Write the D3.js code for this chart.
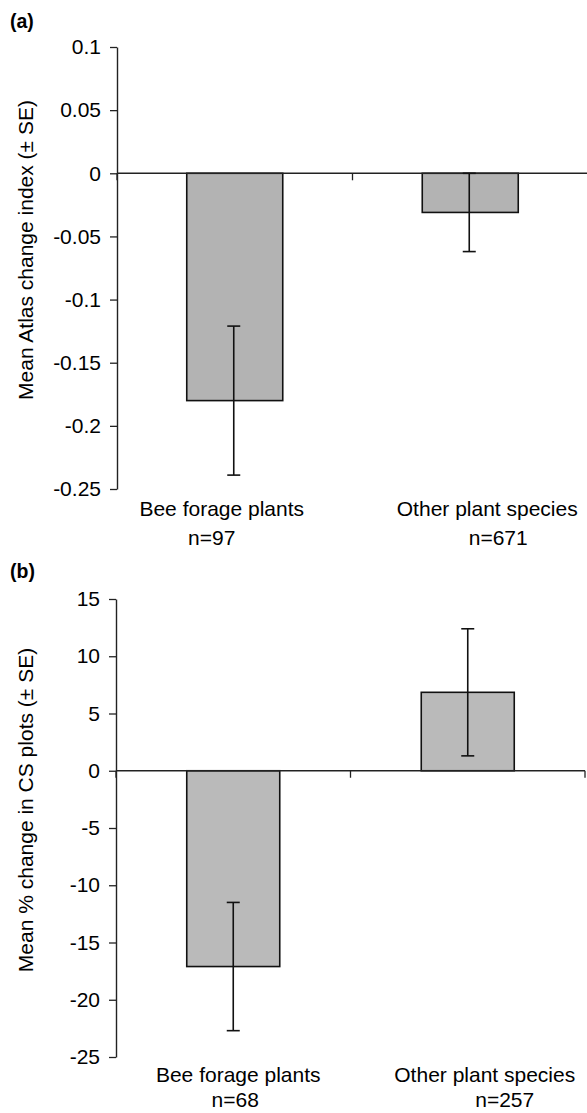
<!DOCTYPE html>
<html>
<head>
<meta charset="utf-8">
<script src="https://cdn.jsdelivr.net/npm/d3@7"></script>
<style>
  html, body { margin: 0; padding: 0; background: #fff; }
  svg { display: block; font-family: "Liberation Sans", Arial, Helvetica, sans-serif; }
</style>
</head>
<body>
<svg width="587" height="1113"></svg>
<script>
// categories shared by both panels
const categories = ['Bee forage plants', 'Other plant species'];

// (a) Atlas change index
const atlasMean = [-0.180, -0.031];
const atlasSE = [0.059, 0.031];
const atlasN = [97, 671];
const atlasTicks = [0.1, 0.05, 0, -0.05, -0.1, -0.15, -0.2, -0.25];

// (b) % change in CS plots
const csMean = [-17.1, 6.85];
const csSE = [5.6, 5.55];
const csN = [68, 257];
const csTicks = [15, 10, 5, 0, -5, -10, -15, -20, -25];

const svg = d3.select('svg');
const fs = 21;

function panel(opt) {
  const g = svg.append('g');
  const x = d3.scaleBand().domain(categories).range(opt.xr);
  const y = d3.scaleLinear().domain(d3.extent(opt.ticks)).range([opt.yr[1], opt.yr[0]]);
  const barW = opt.barW;

  // y axis
  const ya = g.append('g')
    .attr('transform', `translate(${opt.xr[0]},0)`)
    .call(d3.axisLeft(y).tickValues(opt.ticks).tickFormat(d => d).tickSize(7).tickPadding(9).tickSizeOuter(0));
  ya.select('.domain').attr('stroke', '#222').attr('stroke-width', 1.4);
  ya.selectAll('.tick line').attr('stroke', '#222').attr('stroke-width', 1.3);
  ya.selectAll('.tick text').attr('font-size', fs).attr('fill', '#000')
    .attr('font-family', '"Liberation Sans", Arial, sans-serif');

  // bars
  const data = categories.map((c, i) => ({ c, m: opt.mean[i], se: opt.se[i] }));
  g.append('g').selectAll('rect').data(data).join('rect')
    .attr('x', d => x(d.c) + x.bandwidth() / 2 - barW / 2)
    .attr('width', barW)
    .attr('y', d => y(Math.max(0, d.m)))
    .attr('height', d => Math.abs(y(d.m) - y(0)))
    .attr('fill', opt.fill)
    .attr('stroke', '#111')
    .attr('stroke-width', 1.6);

  // zero line with ticks at category boundaries
  const xa = g.append('g');
  xa.append('line')
    .attr('x1', opt.xr[0]).attr('x2', opt.xr[1])
    .attr('y1', y(0)).attr('y2', y(0))
    .attr('stroke', '#222').attr('stroke-width', 1.4);
  const bounds = [opt.xr[0]].concat(categories.map(c => x(c) + x.step()));
  xa.selectAll('.xt').data(bounds).join('line')
    .attr('x1', d => d).attr('x2', d => d)
    .attr('y1', y(0)).attr('y2', y(0) + 7)
    .attr('stroke', '#222').attr('stroke-width', 1.3);

  // error bars
  const eb = g.append('g').attr('stroke', '#111').attr('stroke-width', 1.6);
  data.forEach(d => {
    const cx = x(d.c) + x.bandwidth() / 2 + opt.errDx;
    eb.append('line').attr('x1', cx).attr('x2', cx)
      .attr('y1', y(d.m + d.se)).attr('y2', y(d.m - d.se));
    [d.m + d.se, d.m - d.se].forEach(v => {
      eb.append('line').attr('x1', cx - 6.5).attr('x2', cx + 6.5)
        .attr('y1', y(v)).attr('y2', y(v));
    });
  });

  // category labels and n
  categories.forEach((c, i) => {
    const cx = x(c) + x.bandwidth() / 2;
    g.append('text').attr('x', cx + opt.labDx[i]).attr('y', opt.labY)
      .attr('text-anchor', 'middle').attr('font-size', fs).text(c);
    g.append('text').attr('x', cx + opt.nDx[i]).attr('y', opt.nY)
      .attr('text-anchor', 'middle').attr('font-size', fs).text('n=' + opt.n[i]);
  });

  // y title
  g.append('text')
    .attr('transform', `translate(33,${opt.titleY}) rotate(-90)`)
    .attr('text-anchor', 'middle').attr('font-size', fs)
    .text(opt.title);

  // panel letter
  g.append('text').attr('x', 10).attr('y', opt.letterY)
    .attr('font-size', 19.5).attr('font-weight', 'bold').text(opt.letter);
}

panel({
  letter: '(a)', letterY: 28,
  title: 'Mean Atlas change index (\u00b1 SE)', titleY: 250,
  ticks: atlasTicks, mean: atlasMean, se: atlasSE, n: atlasN,
  xr: [117, 588], yr: [47, 489], barW: 96, fill: '#b3b3b3', errDx: -1,
  labY: 516, nY: 545, labDx: [-13, 17], nDx: [-23, 28]
});

panel({
  letter: '(b)', letterY: 578,
  title: 'Mean % change in CS plots (\u00b1 SE)', titleY: 810,
  ticks: csTicks, mean: csMean, se: csSE, n: csN,
  xr: [116, 585], yr: [599, 1057], barW: 93, fill: '#bababa', errDx: 0,
  labY: 1082, nY: 1107, labDx: [5, 17], nDx: [2, 37]
});
</script>
</body>
</html>
